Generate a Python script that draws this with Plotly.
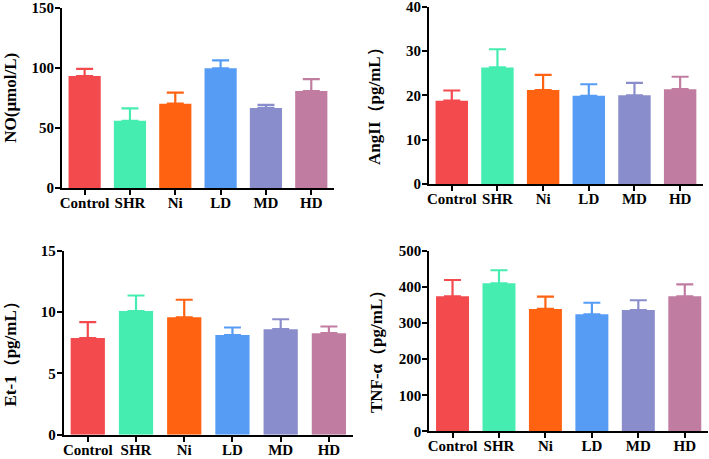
import plotly.graph_objects as go

groups = ["Control", "SHR", "Ni", "LD", "MD", "HD"]
colors = ["#F34A4E", "#45EDB0", "#FF6312", "#569CF5", "#8A8DCC", "#C17CA1"]

no_mean = [93.3, 56.0, 70.3, 99.7, 66.7, 80.8]
no_err = [99.2, 66.4, 79.4, 106.4, 69.2, 90.8]

ang_mean = [18.8, 26.3, 21.2, 19.9, 20.0, 21.4]
ang_err = [21.1, 30.4, 24.6, 22.5, 22.8, 24.2]

et_mean = [7.88, 10.08, 9.57, 8.12, 8.6, 8.28]
et_err = [9.17, 11.35, 11.0, 8.74, 9.41, 8.82]

tnf_mean = [374, 410, 339, 324, 336, 374]
tnf_err = [419, 446, 373, 356, 363, 407]

panels = [
    dict(mean=no_mean, err=no_err, rng=[0, 150], dt=50,
         xd=[0.0874, 0.471], yd=[0.5904, 0.9826], title="NO(μmol/L)", tx=0.0155, ty=0.787),
    dict(mean=ang_mean, err=ang_err, rng=[0, 40], dt=10,
         xd=[0.605, 0.9915], yd=[0.5991, 0.9854], title="AngII（pg/mL）", tx=0.529, ty=0.778),
    dict(mean=et_mean, err=et_err, rng=[0, 15], dt=5,
         xd=[0.0898, 0.4979], yd=[0.0530, 0.4538], title="Et-1（pg/mL）", tx=0.0145, ty=0.237),
    dict(mean=tnf_mean, err=tnf_err, rng=[0, 500], dt=100,
         xd=[0.6055, 0.9986], yd=[0.0600, 0.4538], title="TNF-α（pg/mL）", tx=0.532, ty=0.242),
]

font_fam = "Liberation Serif, Times New Roman, serif"
fig = go.Figure()
annotations = []
for i, p in enumerate(panels):
    n = "" if i == 0 else str(i + 1)
    up = [e - m for e, m in zip(p["err"], p["mean"])]
    for j, g in enumerate(groups):
        fig.add_trace(go.Bar(
            x=[g], y=[p["mean"][j]], xaxis="x" + n, yaxis="y" + n,
            marker=dict(color=colors[j], line=dict(width=0)),
            width=0.71, showlegend=False,
            error_y=dict(type="data", array=[up[j]], arrayminus=[0], symmetric=False,
                         color=colors[j], thickness=2.2, width=8.5),
        ))
    axcommon = dict(showline=True, linecolor="black", linewidth=2, ticks="outside",
                    ticklen=5, tickwidth=2, tickcolor="black", showgrid=False, zeroline=False,
                    automargin=False, tickangle=0,
                    tickfont=dict(family=font_fam, size=15, color="black", weight="bold"))
    fig.layout["xaxis" + n] = dict(domain=p["xd"], anchor="y" + n, type="category",
                                   categoryorder="array", categoryarray=groups,
                                   range=[-0.5, 5.5], ticklabelstandoff=-5, **axcommon)
    fig.layout["yaxis" + n] = dict(domain=p["yd"], anchor="x" + n, range=p["rng"],
                                   dtick=p["dt"], tick0=0, ticklabelstandoff=-2, **axcommon)
    annotations.append(dict(text=p["title"], x=p["tx"], y=p["ty"], xref="paper", yref="paper",
                            textangle=-90, showarrow=False, xanchor="center", yanchor="middle",
                            font=dict(family=font_fam, size=17, color="black", weight="bold")))

fig.update_layout(width=709, height=459, margin=dict(l=0, r=0, t=0, b=0),
                  paper_bgcolor="white", plot_bgcolor="white", bargap=0.29,
                  annotations=annotations)
fig.write_html("out.html")
